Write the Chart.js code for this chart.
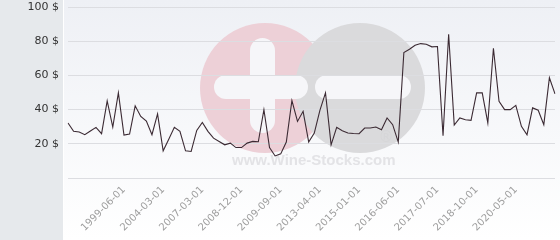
<!DOCTYPE html>
<html>
<head>
<meta charset="utf-8">
<script src="https://cdn.jsdelivr.net/npm/chart.js@4.4.1/dist/chart.umd.min.js"></script>
<style>
  html, body { margin: 0; padding: 0; background: #ffffff; }
  #wrap { width: 560px; height: 240px; }
</style>
</head>
<body>
<div id="wrap"><canvas id="c" width="560" height="240"></canvas></div>
<script>
// ---- DATA ----
const prices = [
  32.2, 27.3, 26.9, 25.3, 27.5, 29.6, 25.9, 45.1, 29.8, 49.8,
  25.1, 25.7, 42.2, 36.0, 33.3, 25.3, 37.5, 15.9, 22.7, 29.6,
  27.3, 15.9, 15.5, 27.8, 32.5, 27.3, 23.3, 21.4, 19.4, 20.4,
  17.8, 17.8, 20.4, 21.4, 21.2, 40.0, 17.8, 12.9, 14.1, 21.0,
  45.3, 33.1, 39.0, 21.0, 26.3, 39.6, 49.8, 19.4, 29.6, 27.6,
  26.3, 26.0, 25.9, 29.2, 29.2, 29.8, 28.2, 35.1, 31.2, 21.0,
  73.4, 75.3, 77.6, 78.6, 78.2, 76.7, 76.9, 24.7, 84.1, 31.0,
  35.1, 34.1, 33.7, 49.8, 49.8, 32.2, 75.9, 44.9, 40.0, 40.0,
  42.5, 30.2, 25.3, 41.0, 39.6, 31.2, 58.6, 49.2
];
const tickIndices = [10, 17, 24, 31, 38, 45, 52, 59, 66, 73, 80];
const tickLabels = [
  "1999-06-01", "2004-03-01", "2007-03-01", "2008-12-01", "2009-09-01",
  "2013-04-01", "2015-01-01", "2016-06-01", "2017-07-01", "2018-10-01", "2020-05-01"
];
const yTicks = [0, 20, 40, 60, 80, 100];

const categories = prices.map((_, i) => {
  const k = tickIndices.indexOf(i);
  return k >= 0 ? tickLabels[k] : "";
});

// ---- BACKGROUND + WATERMARK ----
const bgPlugin = {
  id: 'bg',
  beforeDraw(chart) {
    const { ctx, width, height } = chart;
    ctx.save();
    const g = ctx.createLinearGradient(0, 0, 0, height);
    g.addColorStop(0, '#eef0f5');
    g.addColorStop(1, '#ffffff');
    ctx.fillStyle = g;
    ctx.fillRect(0, 0, width, height);
    ctx.fillStyle = '#e6e9ec';
    ctx.fillRect(0, 0, 63, height);
    ctx.fillStyle = '#ffffff';
    ctx.fillRect(63, 0, 1, height);

    // watermark circles
    ctx.fillStyle = '#edd0d7';
    ctx.beginPath(); ctx.arc(265, 88, 65, 0, Math.PI * 2); ctx.fill();
    ctx.fillStyle = '#dadadc';
    ctx.beginPath(); ctx.arc(360, 88, 65, 0, Math.PI * 2); ctx.fill();

    const bar = (x, y, w, h) => {
      const r = Math.min(w, h) / 2;
      ctx.beginPath();
      ctx.roundRect(x, y, w, h, r);
      ctx.fill();
    };
    ctx.fillStyle = '#f6f6f9';
    bar(250, 38, 25, 95);     // plus vertical
    bar(214, 75, 94, 24);     // plus horizontal
    bar(315, 75, 96, 24);     // minus

    ctx.fillStyle = '#e3e3e6';
    ctx.font = 'bold 15px "Liberation Sans", Arial, sans-serif';
    ctx.textBaseline = 'alphabetic';
    ctx.textAlign = 'left';
    ctx.fillText('www.Wine-Stocks.com', 232, 165);
    ctx.fillStyle = '#d6d6d8';
    ctx.font = '15px "DejaVu Sans", sans-serif';
    ctx.textAlign = 'center';
    ctx.textBaseline = 'middle';
    ctx.fillText('®', 386, 138);
    ctx.restore();
  }
};

new Chart(document.getElementById('c'), {
  type: 'line',
  data: {
    labels: categories,
    datasets: [{
      data: prices,
      borderColor: '#3b2a33',
      borderWidth: 1.1,
      pointRadius: 0,
      pointHoverRadius: 0,
      tension: 0,
      fill: false
    }]
  },
  options: {
    responsive: false,
    animation: false,
    events: [],
    layout: { padding: { top: 7, right: 5, left: 0, bottom: 0 } },
    plugins: { legend: { display: false }, tooltip: { enabled: false } },
    scales: {
      x: {
        offset: false,
        grid: { display: false },
        border: { display: false },
        ticks: {
          autoSkip: false,
          minRotation: 45,
          maxRotation: 45,
          padding: -2,
          color: '#9e9e9e',
          font: { family: '"DejaVu Sans", sans-serif', size: 10 },
          callback: (v, i) => categories[i]
        },
        afterFit: (s) => { s.height = 62; s.paddingLeft = 0; s.paddingRight = 0; }
      },
      y: {
        min: yTicks[0],
        max: yTicks[yTicks.length - 1],
        afterBuildTicks: (s) => { s.ticks = yTicks.map(v => ({ value: v })); },
        grid: { color: '#dcdde1', lineWidth: 1, drawTicks: false },
        border: { display: false },
        ticks: {
          padding: 9,
          color: '#333333',
          font: { family: '"DejaVu Sans", sans-serif', size: 11 },
          callback: (v) => v === 0 ? '' : v + ' $'
        },
        afterFit: (s) => { s.width = 68; s.paddingTop = 0; s.paddingBottom = 0; }
      }
    }
  },
  plugins: [bgPlugin]
});
</script>
</body>
</html>
